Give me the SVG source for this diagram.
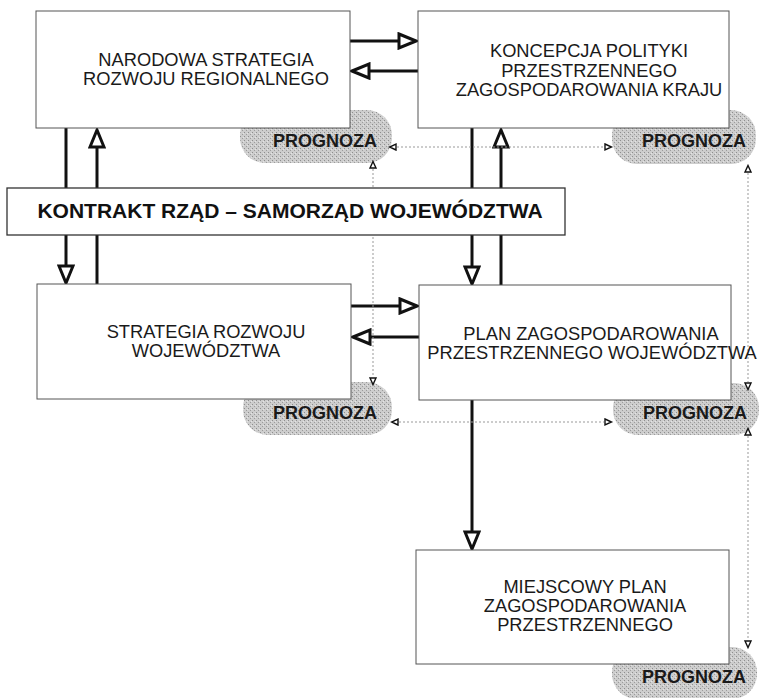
<svg xmlns="http://www.w3.org/2000/svg" width="760" height="698" viewBox="0 0 760 698">
<style>
.box{fill:#fff;stroke:#555;stroke-width:1}
.kbox{fill:#fff;stroke:#333;stroke-width:1.3}
.blob{fill:url(#stip);stroke:none}
.t{font-family:"Liberation Sans",Arial,sans-serif;font-size:18.3px;fill:#1a1a1a;text-anchor:middle}
.pt{font-family:"Liberation Sans",Arial,sans-serif;font-size:18px;font-weight:bold;fill:#1a1a1a;text-anchor:middle}
.kt{font-family:"Liberation Sans",Arial,sans-serif;font-size:21px;font-weight:bold;fill:#111;text-anchor:middle}
.thick{stroke:#111;stroke-width:3;fill:none}
.dot{stroke:#999;stroke-width:1;stroke-dasharray:2,2;fill:none}
</style>
<defs>
<pattern id="stip" width="4" height="4" patternUnits="userSpaceOnUse">
<rect width="4" height="4" fill="#cdcdcd"/>
<rect x="0" y="0" width="1" height="1" fill="#8e8e8e"/>
<rect x="2" y="2" width="1" height="1" fill="#9c9c9c"/>
<rect x="3" y="1" width="1" height="1" fill="#e4e4e4"/>
</pattern>
<marker id="ah" viewBox="0 0 22 18" refX="2" refY="9" markerWidth="22" markerHeight="18" orient="auto" markerUnits="userSpaceOnUse">
<path d="M2,2 L19,9 L2,16 Z" fill="#fff" stroke="#111" stroke-width="3" stroke-linejoin="miter"/>
</marker>
<marker id="sh" viewBox="0 0 10 10" refX="1.5" refY="5" markerWidth="10" markerHeight="10" orient="auto" markerUnits="userSpaceOnUse">
<path d="M1.5,2 L8,5 L1.5,8 Z" fill="#fff" stroke="#111" stroke-width="1.4"/>
</marker>
</defs>

<g id="prognoza1"><rect class="blob" x="240" y="110" width="152" height="53" rx="25"/><text class="pt" x="325" y="147">PROGNOZA</text></g>
<g id="prognoza2"><rect class="blob" x="612" y="110" width="144" height="54" rx="25"/><text class="pt" x="694" y="147">PROGNOZA</text></g>
<g id="prognoza3"><rect class="blob" x="243" y="382" width="149" height="53" rx="25"/><text class="pt" x="325" y="419">PROGNOZA</text></g>
<g id="prognoza4"><rect class="blob" x="613" y="383" width="146" height="52" rx="25"/><text class="pt" x="695" y="419">PROGNOZA</text></g>
<g id="prognoza5"><rect class="blob" x="612" y="647" width="145" height="52" rx="25"/><text class="pt" x="694" y="683">PROGNOZA</text></g>

<g id="connectors">
<line class="thick" x1="350" y1="41" x2="399" y2="41" marker-end="url(#ah)"/>
<line class="thick" x1="418" y1="71" x2="369" y2="71" marker-end="url(#ah)"/>
<line class="thick" x1="66" y1="128" x2="66" y2="188"/>
<line class="thick" x1="66" y1="235" x2="66" y2="266" marker-end="url(#ah)"/>
<line class="thick" x1="97" y1="284" x2="97" y2="235"/>
<line class="thick" x1="97" y1="188" x2="97" y2="147" marker-end="url(#ah)"/>
<line class="thick" x1="472" y1="128" x2="472" y2="188"/>
<line class="thick" x1="472" y1="235" x2="472" y2="267" marker-end="url(#ah)"/>
<line class="thick" x1="501" y1="285" x2="501" y2="235"/>
<line class="thick" x1="501" y1="188" x2="501" y2="147" marker-end="url(#ah)"/>
<line class="thick" x1="351" y1="306" x2="400" y2="306" marker-end="url(#ah)"/>
<line class="thick" x1="419" y1="337" x2="370" y2="337" marker-end="url(#ah)"/>
<line class="thick" x1="472" y1="400" x2="472" y2="532" marker-end="url(#ah)"/>
<line class="dot" x1="397" y1="147" x2="604" y2="147"/>
<line x1="397" y1="147" x2="396" y2="147" stroke="none" marker-end="url(#sh)"/>
<line x1="604" y1="147" x2="605" y2="147" stroke="none" marker-end="url(#sh)"/>
<line class="dot" x1="373" y1="169" x2="373" y2="377"/>
<line x1="373" y1="169" x2="373" y2="168" stroke="none" marker-end="url(#sh)"/>
<line x1="373" y1="377" x2="373" y2="378" stroke="none" marker-end="url(#sh)"/>
<line class="dot" x1="399" y1="422" x2="604" y2="422"/>
<line x1="399" y1="422" x2="398" y2="422" stroke="none" marker-end="url(#sh)"/>
<line x1="604" y1="422" x2="605" y2="422" stroke="none" marker-end="url(#sh)"/>
<line class="dot" x1="748" y1="173" x2="748" y2="382"/>
<line x1="748" y1="173" x2="748" y2="172" stroke="none" marker-end="url(#sh)"/>
<line x1="748" y1="382" x2="748" y2="383" stroke="none" marker-end="url(#sh)"/>
<line class="dot" x1="748" y1="436" x2="748" y2="640"/>
<line x1="748" y1="436" x2="748" y2="435" stroke="none" marker-end="url(#sh)"/>
<line x1="748" y1="640" x2="748" y2="641" stroke="none" marker-end="url(#sh)"/>
</g>

<g id="narodowa"><rect class="box" x="36" y="11" width="314" height="117"/>
<text class="t" x="206" y="66">NARODOWA STRATEGIA</text><text class="t" x="206" y="85">ROZWOJU REGIONALNEGO</text></g>
<g id="koncepcja"><rect class="box" x="418" y="11" width="311" height="117"/>
<text class="t" x="589" y="57">KONCEPCJA POLITYKI</text><text class="t" x="589" y="76.5">PRZESTRZENNEGO</text><text class="t" x="589" y="96">ZAGOSPODAROWANIA KRAJU</text></g>
<g id="kontrakt"><rect class="kbox" x="7" y="188" width="558" height="47"/>
<text class="kt" x="290" y="218">KONTRAKT RZĄD – SAMORZĄD WOJEWÓDZTWA</text></g>
<g id="strategia"><rect class="box" x="37" y="284" width="314" height="115"/>
<text class="t" x="206" y="338">STRATEGIA ROZWOJU</text><text class="t" x="206" y="357">WOJEWÓDZTWA</text></g>
<g id="plan"><rect class="box" x="419" y="285" width="312" height="115"/>
<text class="t" x="591" y="340">PLAN ZAGOSPODAROWANIA</text><text class="t" x="592" y="359">PRZESTRZENNEGO WOJEWÓDZTWA</text></g>
<g id="miejscowy"><rect class="box" x="416" y="550" width="313" height="114"/>
<text class="t" x="585" y="593">MIEJSCOWY PLAN</text><text class="t" x="585" y="612">ZAGOSPODAROWANIA</text><text class="t" x="585" y="631">PRZESTRZENNEGO</text></g>
</svg>
